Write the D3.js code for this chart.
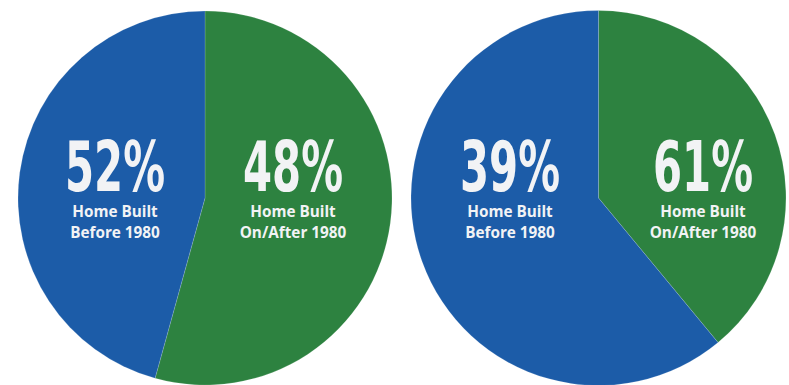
<!DOCTYPE html>
<html>
<head>
<meta charset="utf-8">
<script src="https://cdn.jsdelivr.net/npm/d3@7"></script>
<style>
  html, body { margin: 0; padding: 0; background: #ffffff; }
  svg { display: block; }
</style>
</head>
<body>
<svg id="chart" width="789" height="385"></svg>
<script>
// ---- data ----
const categories = ["Before 1980", "On/After 1980"];
const labelLine1 = ["Home Built", "Home Built"];
const labelLine2 = ["Before 1980", "On/After 1980"];
// percentages printed on each pie: [before, after]
const printedPercents = [[52, 48], [39, 61]];
// slice shares as drawn in the picture (clockwise from 12 o'clock: after, then before)
const drawnAfter = [54.3, 39.0];
const drawnBefore = [45.7, 61.0];
const colors = { "Before 1980": "#1c5ca8", "On/After 1980": "#2d8240" };

// ---- layout ----
const layout = [
  { cx: 205, cy: 198, r: 187, labelX: [115, 293] },
  { cx: 598.5, cy: 198, r: 187.5, labelX: [510, 703] }
];

const svg = d3.select("#chart");
const pie = d3.pie().sort(null).value(d => d.value);

layout.forEach((L, i) => {
  const g = svg.append("g").attr("transform", `translate(${L.cx},${L.cy})`);
  const data = [
    { cat: categories[1], value: drawnAfter[i] },
    { cat: categories[0], value: drawnBefore[i] }
  ];
  const arc = d3.arc().innerRadius(0).outerRadius(L.r);
  g.selectAll("path.slice")
    .data(pie(data))
    .join("path")
    .attr("class", "slice")
    .attr("d", arc)
    .attr("fill", d => colors[d.data.cat])
    .attr("stroke", "rgba(255,255,255,0.25)")
    .attr("stroke-width", 0.6);

  const tg = svg.append("g");
  [0, 1].forEach(k => {
    const x = L.labelX[k];
    tg.append("text")
      .attr("x", x).attr("y", 191)
      .attr("text-anchor", "middle")
      .attr("font-family", "'Liberation Sans Narrow', 'DejaVu Sans Condensed', 'Roboto Condensed', sans-serif")
      .attr("font-stretch", "condensed")
      .attr("font-weight", "bold")
      .attr("font-size", 70)
      .attr("textLength", 100)
      .attr("lengthAdjust", "spacingAndGlyphs")
      .attr("fill", "#f2f3f5")
      .text(printedPercents[i][k] + "%");
    tg.append("text")
      .attr("x", x).attr("y", 217)
      .attr("text-anchor", "middle")
      .attr("font-family", "'Open Sans', 'Noto Sans', sans-serif")
      .attr("font-weight", "bold")
      .attr("font-size", 15.3)
      .attr("fill", "#f2f3f5")
      .text(labelLine1[k]);
    tg.append("text")
      .attr("x", x).attr("y", 237.5)
      .attr("text-anchor", "middle")
      .attr("font-family", "'Open Sans', 'Noto Sans', sans-serif")
      .attr("font-weight", "bold")
      .attr("font-size", 15.3)
      .attr("fill", "#f2f3f5")
      .text(labelLine2[k]);
  });
});
</script>
</body>
</html>
